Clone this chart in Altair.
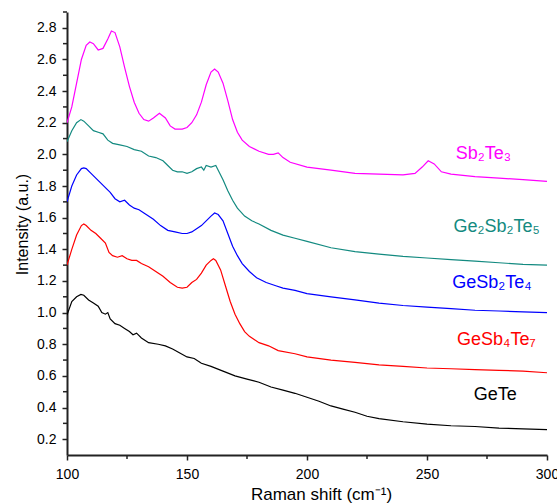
import altair as alt
import pandas as pd

# ---------------- data ----------------
names = ["Sb₂Te₃", "Ge₂Sb₂Te₅", "GeSb₂Te₄", "GeSb₄Te₇", "GeTe"]
colors = ["#FF00FF", "#138A80", "#0000FF", "#FF0000", "#000000"]

sb2te3_x = [100, 102, 104, 106, 108, 109.5, 111, 113, 115, 117, 118.5, 120, 122, 124, 126, 128, 130, 132, 134, 136,
            138.5, 141, 143, 145, 148, 150, 152, 154, 156, 158, 160, 161.5, 163, 165, 167, 169, 171, 173, 176, 180,
            184, 186, 188, 190, 193, 200, 210, 220, 230, 240, 245, 248, 250.5, 253, 256, 260, 270, 280, 290, 300]
sb2te3_y = [2.20, 2.30, 2.45, 2.60, 2.69, 2.71, 2.70, 2.66, 2.67, 2.73, 2.78, 2.77, 2.68, 2.55, 2.43, 2.33, 2.26, 2.22,
            2.21, 2.23, 2.26, 2.23, 2.18, 2.16, 2.16, 2.17, 2.20, 2.25, 2.33, 2.44, 2.52, 2.54, 2.52, 2.45, 2.34, 2.22,
            2.14, 2.09, 2.05, 2.02, 2.00, 2.00, 2.01, 1.98, 1.95, 1.92, 1.90, 1.88, 1.875, 1.87, 1.88, 1.92, 1.96, 1.94,
            1.89, 1.875, 1.86, 1.85, 1.84, 1.83]

ge2sb2te5_x = [100, 102, 104, 105.8, 107, 109, 111, 113, 115, 117, 119, 122, 125, 128, 131, 134, 137, 140, 142, 144,
               146, 148, 150, 152, 154, 156, 157, 158, 160, 162, 163, 165, 167, 169, 171, 174, 177, 180, 185, 190, 195,
               200, 210, 220, 230, 240, 250, 260, 270, 280, 290, 300]
ge2sb2te5_y = [2.08, 2.15, 2.20, 2.22, 2.21, 2.18, 2.15, 2.14, 2.13, 2.09, 2.07, 2.06, 2.05, 2.03, 2.02, 1.99, 1.98,
               1.96, 1.93, 1.90, 1.89, 1.89, 1.88, 1.89, 1.91, 1.92, 1.90, 1.93, 1.92, 1.93, 1.90, 1.84, 1.77, 1.71,
               1.66, 1.61, 1.58, 1.56, 1.52, 1.49, 1.47, 1.45, 1.41, 1.385, 1.37, 1.355, 1.345, 1.335, 1.325, 1.315,
               1.305, 1.30]

gesb2te4_x = [100, 102, 104, 106, 107, 108, 110, 112, 114, 116, 118, 120, 122, 124, 126, 128, 130, 133, 136, 139, 142,
              145, 148, 150, 152, 154, 156, 158, 160, 161.5, 163, 165, 167, 169, 171, 173, 176, 179, 183, 187, 190, 195,
              200, 210, 220, 230, 240, 250, 260, 270, 280, 290, 300]
gesb2te4_y = [1.70, 1.80, 1.87, 1.91, 1.915, 1.91, 1.88, 1.85, 1.82, 1.79, 1.76, 1.72, 1.70, 1.71, 1.68, 1.66, 1.65,
              1.62, 1.59, 1.55, 1.52, 1.51, 1.50, 1.50, 1.51, 1.53, 1.55, 1.58, 1.61, 1.63, 1.62, 1.58, 1.50, 1.42,
              1.36, 1.31, 1.26, 1.22, 1.19, 1.17, 1.155, 1.14, 1.12, 1.10, 1.08, 1.06, 1.045, 1.035, 1.025, 1.015,
              1.01, 1.005, 1.00]

gesb4te7_x = [100, 102, 104, 106, 107, 108, 110, 112, 114, 116, 117.5, 119, 121, 123, 125, 127, 129, 131, 134, 137,
              140, 143, 146, 148, 150, 152, 154, 156, 158, 160, 161, 162, 164, 166, 168, 170, 172, 174, 176, 178, 180,
              184, 188, 195, 200, 210, 220, 230, 240, 250, 260, 270, 280, 290, 300]
gesb4te7_y = [1.30, 1.40, 1.49, 1.55, 1.56, 1.55, 1.52, 1.50, 1.47, 1.44, 1.38, 1.36, 1.35, 1.36, 1.34, 1.33, 1.33,
              1.31, 1.29, 1.26, 1.23, 1.19, 1.16, 1.155, 1.16, 1.19, 1.21, 1.25, 1.30, 1.33, 1.34, 1.33, 1.27, 1.17,
              1.07, 0.99, 0.93, 0.88, 0.85, 0.83, 0.81, 0.79, 0.76, 0.74, 0.72, 0.70, 0.685, 0.67, 0.66, 0.65, 0.645,
              0.64, 0.635, 0.63, 0.62]

gete_x = [100, 102, 104, 105.8, 107, 109, 111, 113, 114.5, 116, 117, 118, 120, 122, 124, 126, 127.5, 129, 131, 134,
          138, 141, 144, 147, 150, 153, 156, 160, 165, 170, 175, 180, 185, 190, 195, 200, 205, 210, 215, 220, 225,
          230, 240, 250, 260, 270, 280, 290, 300]
gete_y = [0.985, 1.07, 1.10, 1.115, 1.11, 1.08, 1.06, 1.04, 1.00, 0.99, 1.00, 0.96, 0.93, 0.92, 0.90, 0.88, 0.86,
          0.87, 0.84, 0.81, 0.80, 0.79, 0.77, 0.745, 0.72, 0.71, 0.68, 0.66, 0.63, 0.60, 0.58, 0.56, 0.53, 0.51,
          0.49, 0.465, 0.44, 0.41, 0.39, 0.37, 0.345, 0.33, 0.31, 0.295, 0.285, 0.28, 0.27, 0.265, 0.26]

label_x = [262, 261, 260.5, 262.5, 269.5]
label_y = [2.00, 1.54, 1.19, 0.83, 0.48]

x_major = [100, 150, 200, 250, 300]
x_minor = [125, 175, 225, 275]
y_major = [0.2, 0.4, 0.6, 0.8, 1.0, 1.2, 1.4, 1.6, 1.8, 2.0, 2.2, 2.4, 2.6, 2.8]
y_minor = [0.3, 0.5, 0.7, 0.9, 1.1, 1.3, 1.5, 1.7, 1.9, 2.1, 2.3, 2.5, 2.7, 2.9]

# ---------------- tables ----------------
series = [(names[0], sb2te3_x, sb2te3_y), (names[1], ge2sb2te5_x, ge2sb2te5_y),
          (names[2], gesb2te4_x, gesb2te4_y), (names[3], gesb4te7_x, gesb4te7_y),
          (names[4], gete_x, gete_y)]
rows = []
for name, xs, ys in series:
    for i, (xv, yv) in enumerate(zip(xs, ys)):
        rows.append({"series": name, "x": xv, "y": yv, "order": i})
df = pd.DataFrame(rows)
labels = pd.DataFrame({"series": names, "x": label_x, "y": label_y})
xminor_df = pd.DataFrame({"x": x_minor})
yminor_df = pd.DataFrame({"y": y_minor})

FONT = "Liberation Sans"
AX = "#222222"
x_scale = alt.Scale(domain=[100, 300], nice=False, zero=False)
y_scale = alt.Scale(domain=[0.1, 2.9], nice=False, zero=False)
c_scale = alt.Scale(domain=names, range=colors)

x_axis = alt.Axis(values=x_major, title="Raman shift (cm⁻¹)", grid=False, orient="bottom",
                  labelFlush=False, labelOverlap=False,
                  domainColor=AX, domainWidth=2, tickColor=AX, tickWidth=1.5, tickSize=5,
                  labelFont=FONT, labelFontSize=14, labelColor="#000000", labelPadding=7,
                  titleFont=FONT, titleFontSize=17, titleFontWeight="normal", titleColor="#000000",
                  titleX=254, titleY=44, titleBaseline="alphabetic")
y_axis = alt.Axis(values=y_major, format=".1f", title="Intensity (a.u.)", grid=False, orient="left",
                  labelFlush=False, labelOverlap=False,
                  domainColor=AX, domainWidth=2, tickColor=AX, tickWidth=1.5, tickSize=5,
                  labelFont=FONT, labelFontSize=14, labelColor="#000000", labelPadding=6,
                  titleFont=FONT, titleFontSize=16, titleFontWeight="normal", titleColor="#000000",
                  titleX=-37, titleY=212, titleBaseline="bottom", titleAngle=270)

lines = alt.Chart(df).mark_line(strokeWidth=1.2, clip=True).encode(
    x=alt.X("x:Q", scale=x_scale, axis=x_axis),
    y=alt.Y("y:Q", scale=y_scale, axis=y_axis),
    color=alt.Color("series:N", scale=c_scale, legend=None),
    order="order:Q",
)

texts = alt.Chart(labels).mark_text(align="left", baseline="middle", font=FONT, fontSize=18).encode(
    x=alt.X("x:Q", scale=x_scale, axis=None),
    y=alt.Y("y:Q", scale=y_scale, axis=None),
    text="series:N",
    color=alt.Color("series:N", scale=c_scale, legend=None),
)

# minor ticks, placed through the shared scales
xminor = alt.Chart(xminor_df).mark_rule(color=AX, strokeWidth=1.5, clip=False).encode(
    x=alt.X("x:Q", scale=x_scale, axis=None),
    y=alt.value(443), y2=alt.value(447),
)
yminor = alt.Chart(yminor_df).mark_rule(color=AX, strokeWidth=1.5, clip=False).encode(
    y=alt.Y("y:Q", scale=y_scale, axis=None),
    x=alt.value(-4), x2=alt.value(0),
)

chart = alt.layer(lines, texts, xminor, yminor).resolve_axis(
    x="independent", y="independent"
).properties(
    width=480, height=443,
    autosize=alt.AutoSizeParams(type="none"),
    padding={"left": 67, "top": 12, "right": 10, "bottom": 49},
    background="white",
).configure_view(stroke=None)

chart.save("out.html", embed_options={"renderer": "svg", "actions": False})
